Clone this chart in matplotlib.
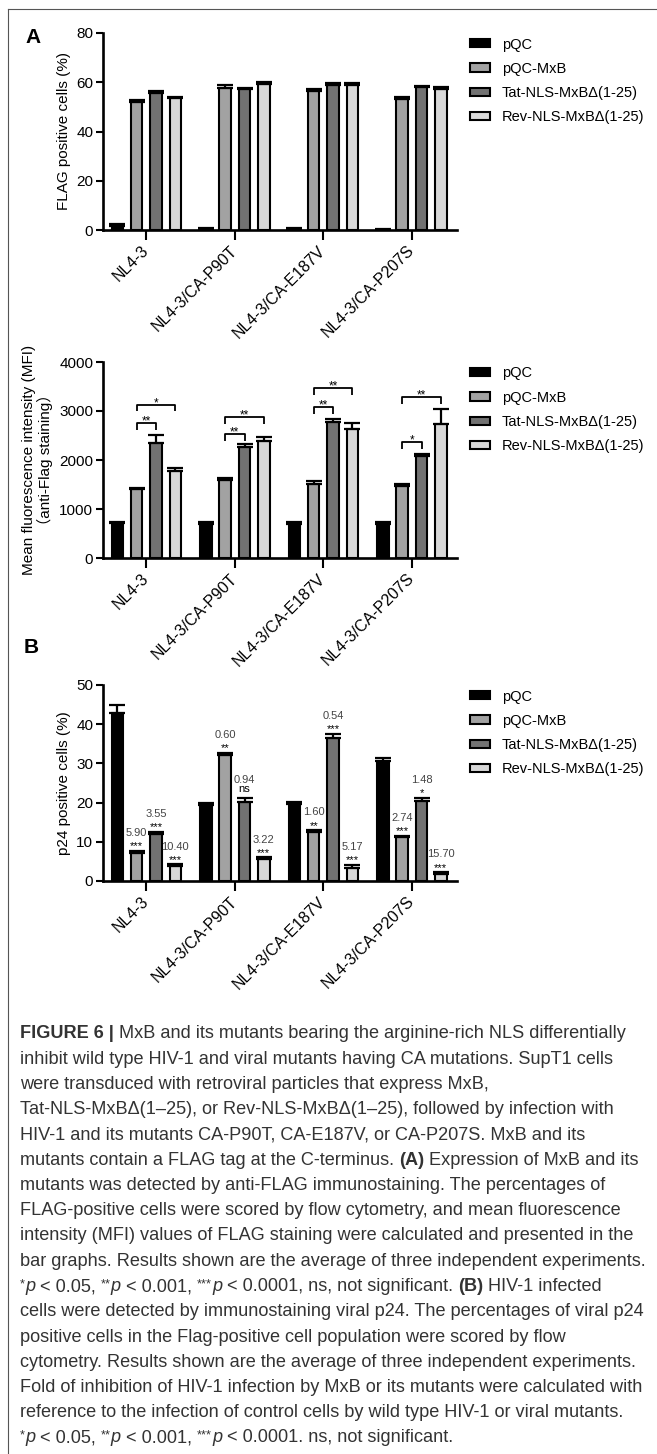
import re
import numpy as np
import matplotlib
matplotlib.use('Agg')
import matplotlib.pyplot as plt
from matplotlib.patches import Patch
from matplotlib.lines import Line2D
from matplotlib.font_manager import FontProperties

plt.rcParams['font.family'] = ['Liberation Sans', 'DejaVu Sans']

W, H, DPI = 657, 1454, 100

viruses = ['NL4-3', 'NL4-3/CA-P90T', 'NL4-3/CA-E187V', 'NL4-3/CA-P207S']
constructs = ['pQC', 'pQC-MxB', 'Tat-NLS-MxBΔ(1-25)', 'Rev-NLS-MxBΔ(1-25)']
bar_colors = ['#000000', '#a2a2a2', '#727272', '#d8d8d8']

# rows = constructs, columns = viruses
flag_mean = [[1.8, 0.5, 0.5, 0.2],
             [51.8, 57.8, 56.4, 53.2],
             [55.6, 57.1, 58.8, 58.0],
             [53.6, 59.1, 58.8, 57.4]]
flag_err = [[0.8, 0.4, 0.4, 0.2],
            [0.8, 1.2, 0.9, 0.8],
            [0.7, 0.7, 1.0, 0.6],
            [0.4, 0.8, 0.9, 0.7]]

mfi_mean = [[710, 700, 700, 700],
            [1400, 1600, 1510, 1470],
            [2340, 2270, 2780, 2090],
            [1780, 2380, 2630, 2730]]
mfi_err = [[30, 25, 30, 25],
           [30, 40, 60, 35],
           [170, 50, 60, 40],
           [60, 90, 120, 320]]
# (virus, construct a, construct b, height, label)
mfi_brackets = [(0, 1, 3, 3130, '*'), (0, 1, 2, 2750, '**'),
                (1, 1, 3, 2880, '**'), (1, 1, 2, 2530, '**'),
                (2, 1, 3, 3460, '**'), (2, 1, 2, 3080, '**'),
                (3, 1, 3, 3290, '**'), (3, 1, 2, 2360, '*')]

p24_mean = [[42.8, 19.3, 19.6, 30.7],
            [7.2, 32.1, 12.4, 11.2],
            [12.1, 20.2, 36.4, 20.4],
            [3.8, 5.7, 3.4, 1.7]]
p24_err = [[2.0, 0.6, 0.5, 0.7],
           [0.5, 0.6, 0.6, 0.4],
           [0.5, 1.0, 1.2, 0.9],
           [0.5, 0.4, 0.7, 0.6]]
# fold of inhibition and significance, for constructs 1..3
p24_fold = [['5.90', '0.60', '1.60', '2.74'],
            ['3.55', '0.94', '0.54', '1.48'],
            ['10.40', '3.22', '5.17', '15.70']]
p24_sig = [['***', '**', '**', '***'],
           ['***', 'ns', '***', '*'],
           ['***', '***', '***', '***']]

caption_lines = [
    "{b:FIGURE 6 |} MxB and its mutants bearing the arginine-rich NLS differentially",
    "inhibit wild type HIV-1 and viral mutants having CA mutations. SupT1 cells",
    "were transduced with retroviral particles that express MxB,",
    "Tat-NLS-MxBΔ(1–25), or Rev-NLS-MxBΔ(1–25), followed by infection with",
    "HIV-1 and its mutants CA-P90T, CA-E187V, or CA-P207S. MxB and its",
    "mutants contain a FLAG tag at the C-terminus. {b:(A)} Expression of MxB and its",
    "mutants was detected by anti-FLAG immunostaining. The percentages of",
    "FLAG-positive cells were scored by flow cytometry, and mean fluorescence",
    "intensity (MFI) values of FLAG staining were calculated and presented in the",
    "bar graphs. Results shown are the average of three independent experiments.",
    "{s:*}{i:p} < 0.05, {s:**}{i:p} < 0.001, {s:***}{i:p} < 0.0001, ns, not significant. {b:(B)} HIV-1 infected",
    "cells were detected by immunostaining viral p24. The percentages of viral p24",
    "positive cells in the Flag-positive cell population were scored by flow",
    "cytometry. Results shown are the average of three independent experiments.",
    "Fold of inhibition of HIV-1 infection by MxB or its mutants were calculated with",
    "reference to the infection of control cells by wild type HIV-1 or viral mutants.",
    "{s:*}{i:p} < 0.05, {s:**}{i:p} < 0.001, {s:***}{i:p} < 0.0001. ns, not significant.",
]

fig = plt.figure(figsize=(W / DPI, H / DPI), dpi=DPI)
renderer = fig.canvas.get_renderer()

fs = 10.5
x = np.arange(len(viruses))
offsets = (np.arange(4) - 1.5) * 0.218
bar_w = 0.13


def make_axes(top, bottom, left=103, right=457):
    return fig.add_axes([left / W, 1 - bottom / H, (right - left) / W, (bottom - top) / H])


def bar_panel(ax, means, errs, ymax, ystep, top):
    for k in range(4):
        xs = x + offsets[k]
        ax.bar(xs, means[k], width=bar_w, color=bar_colors[k], edgecolor='black',
               linewidth=1.5, zorder=2)
        ax.errorbar(xs, means[k], yerr=[np.zeros(4), errs[k]], fmt='none', ecolor='black',
                    elinewidth=1.6, capsize=5.5, capthick=1.6, zorder=3)
    ax.set_xlim(-0.49, 3.51)
    ax.set_ylim(0, ymax)
    ax.set_yticks(np.arange(0, ymax + 1, ystep))
    ax.set_xticks(x)
    ax.set_xticklabels(viruses, rotation=45, ha='right', va='center',
                       rotation_mode='anchor', fontsize=11.5)
    for s in ['top', 'right']:
        ax.spines[s].set_visible(False)
    for s in ['left', 'bottom']:
        ax.spines[s].set_linewidth(1.9)
    ax.tick_params(axis='x', length=7, width=1.5, pad=6)
    ax.tick_params(axis='y', length=5, width=1.5, pad=2, labelsize=11)
    handles = [Patch(facecolor=c, edgecolor='black', linewidth=1.5) for c in bar_colors]
    ax.legend(handles, constructs, loc='upper left',
              bbox_to_anchor=(470 / W, 1 - (top + 4.5) / H), bbox_transform=fig.transFigure,
              frameon=False, borderaxespad=0, borderpad=0, handlelength=1.37,
              handleheight=0.5, handletextpad=0.8, labelspacing=0.7, fontsize=fs)


# panel A, FLAG positive cells
ax1 = make_axes(33, 230)
bar_panel(ax1, flag_mean, flag_err, 80, 20, 33)
ax1.set_ylabel('FLAG positive cells (%)', fontsize=11, va='center')
ax1.yaxis.set_label_coords(-0.11, 0.5)

# panel A, MFI
ax2 = make_axes(362, 558)
bar_panel(ax2, mfi_mean, mfi_err, 4000, 1000, 362)
ax2.set_ylabel('Mean fluorescence intensity (MFI)\n（anti-Flag staining）', fontsize=11,
               va='center', linespacing=1.0, family=['Liberation Sans', 'Noto Sans CJK SC'])
ax2.yaxis.set_label_coords(-0.185, 0.5)
for g, a, b, yb, lab in mfi_brackets:
    x1, x2 = g + offsets[a], g + offsets[b]
    ax2.plot([x1, x1, x2, x2], [yb - 140, yb, yb, yb - 140], color='black', lw=1.3,
             solid_capstyle='butt', zorder=4)
    ax2.annotate(lab, ((x1 + x2) / 2, yb), xytext=(0, -1), textcoords='offset points',
                 ha='center', va='baseline', fontsize=8.5)

# panel B, p24
ax3 = make_axes(685, 881)
bar_panel(ax3, p24_mean, p24_err, 50, 10, 685)
ax3.set_ylabel('p24 positive cells (%)', fontsize=11, va='center')
ax3.yaxis.set_label_coords(-0.11, 0.5)
for k in range(1, 4):
    for g in range(4):
        xs = g + offsets[k]
        ytop = p24_mean[k][g] + p24_err[k][g]
        sig = p24_sig[k - 1][g]
        ax3.annotate(sig, (xs, ytop), xytext=(0, 4.5 if sig == 'ns' else 1),
                     textcoords='offset points', ha='center', va='baseline', fontsize=8)
        ax3.annotate(p24_fold[k - 1][g], (xs, ytop), xytext=(0, 10.5), textcoords='offset points',
                     ha='center', va='baseline', fontsize=8, color='#444444')

# panel letters
fig.text(33 / W, 1 - 43 / H, 'A', fontsize=15, fontweight='bold', ha='center', va='baseline')
fig.text(31 / W, 1 - 653 / H, 'B', fontsize=15, fontweight='bold', ha='center', va='baseline')

# frame
fig.add_artist(Line2D([8 / W, 1], [1 - 8.5 / H] * 2, transform=fig.transFigure,
                      color='#555555', lw=0.8))
fig.add_artist(Line2D([8 / W] * 2, [1 - 8.5 / H, 0], transform=fig.transFigure,
                      color='#555555', lw=0.8))

# caption
cap_color = '#333333'


def seg_props(kind, size):
    if kind == 'b':
        return FontProperties(family='Liberation Sans', size=size, weight='bold')
    if kind == 'i':
        return FontProperties(family='Liberation Sans', size=size, style='italic')
    if kind == 's':
        return FontProperties(family='Liberation Sans', size=size * 0.7)
    return FontProperties(family='Liberation Sans', size=size)


def seg_width(s, fp):
    w1 = renderer.get_text_width_height_descent('x' + s + 'x', fp, ismath=False)[0]
    w0 = renderer.get_text_width_height_descent('xx', fp, ismath=False)[0]
    return w1 - w0


def split_line(line):
    out = []
    for part in re.split(r'(\{[bis]:[^}]*\})', line):
        if not part:
            continue
        if part.startswith('{'):
            out.append((part[1], part[3:-1]))
        else:
            out.append(('n', part))
    return out


# fit font size so the widest line spans the text column
ref = split_line(caption_lines[14])
w10 = sum(seg_width(s, seg_props(k, 10)) for k, s in ref)
cap_fs = 10 * 626 / w10

for i, line in enumerate(caption_lines):
    xpos = 20
    ybase = 1038.5 + 25.25 * i
    for kind, s in split_line(line):
        fp = seg_props(kind, cap_fs)
        dy = 4 if kind == 's' else 0
        fig.text(xpos / W, 1 - (ybase - dy) / H, s, fontproperties=fp, color=cap_color,
                 ha='left', va='baseline')
        xpos += seg_width(s, fp)

fig.savefig('out.png', dpi=DPI)
